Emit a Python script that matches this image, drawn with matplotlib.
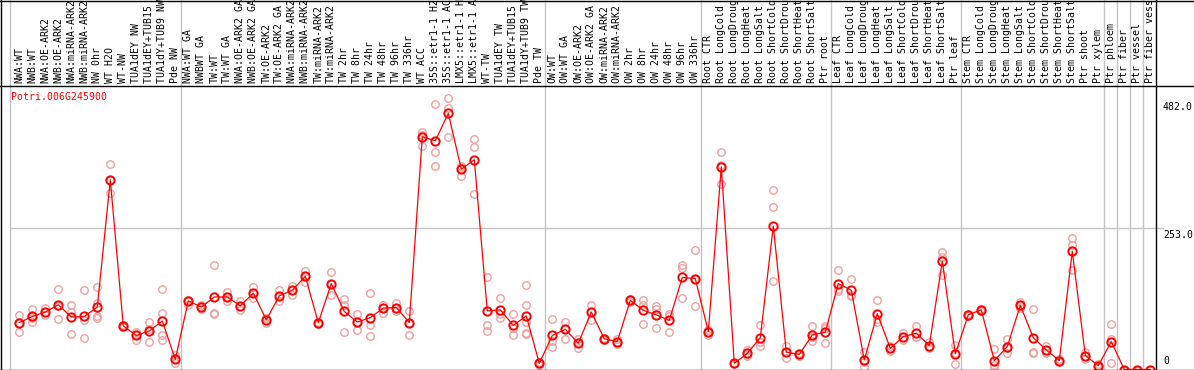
import numpy as np
import matplotlib
matplotlib.use("Agg")
import matplotlib.pyplot as plt
from matplotlib.lines import Line2D
import matplotlib.transforms as mtransforms

# Dados do gráfico
gene = "Potri.006G245900"

labels = [
    "NWA:WT", "NWB:WT", "NWA:OE-ARK2", "NWB:OE-ARK2", "NWA:miRNA-ARK2",
    "NWB:miRNA-ARK2", "NW 0hr", "WT H2O", "WT-NW", "TUA1dEY NW",
    "TUA1dEY+TUB15 NW", "TUA1dY+TUB9 NW", "Pde NW",
    "NWA:WT GA", "NWBWT GA", "TW:WT", "TW:WT GA", "NWA:OE-ARK2 GA",
    "NWB:OE-ARK2 GA", "TW:OE-ARK2", "TW:OE-ARK2 GA", "NWA:miRNA-ARK2 GA",
    "NWB:miRNA-ARK2 GA", "TW:miRNA-ARK2", "TW:miRNA-ARK2 GA", "TW 2hr",
    "TW 8hr", "TW 24hr", "TW 48hr", "TW 96hr", "TW 336hr", "WT ACC",
    "35S::etr1-1 H2O", "35S::etr1-1 ACC", "LMX5::etr1-1 H2O",
    "LMX5::etr1-1 ACC", "WT-TW", "TUA1dEY TW", "TUA1dEY+TUB15 TW",
    "TUA1dY+TUB9 TW", "Pde TW",
    "OW:WT", "OW:WT GA", "OW:OE-ARK2", "OW:OE-ARK2 GA", "OW:miRNA-ARK2",
    "OW:miRNA-ARK2 GA", "OW 2hr", "OW 8hr", "OW 24hr", "OW 48hr", "OW 96hr",
    "OW 336hr",
    "Root CTR", "Root LongCold", "Root LongDrought", "Root LongHeat",
    "Root LongSalt", "Root ShortCold", "Root ShortDrought", "Root ShortHeat",
    "Root ShortSalt", "Ptr root",
    "Leaf CTR", "Leaf LongCold", "Leaf LongDrought", "Leaf LongHeat",
    "Leaf LongSalt", "Leaf ShortCold", "Leaf ShortDrought", "Leaf ShortHeat",
    "Leaf ShortSalt", "Ptr leaf",
    "Stem CTR", "Stem LongCold", "Stem LongDrought", "Stem LongHeat",
    "Stem LongSalt", "Stem ShortCold", "Stem ShortDrought", "Stem ShortHeat",
    "Stem ShortSalt", "Ptr shoot", "Ptr xylem",
    "Ptr phloem", "Ptr fiber", "Ptr vessel", "Ptr fiber vessel",
]

group_sizes = [13, 28, 12, 10, 10, 11, 1, 1, 1, 1]

means = [
    84, 95, 103, 116, 94, 95, 112, 340, 78, 61, 69, 87, 18,
    123, 112, 130, 130, 114, 137, 89, 132, 142, 167, 84, 154, 104, 85, 93,
    110, 111, 84, 417, 410, 459, 359, 376, 105, 107, 79, 96, 11,
    61, 72, 47, 103, 55, 50, 124, 106, 98, 88, 165, 163,
    68, 363, 11, 29, 57, 257, 31, 27, 62, 67,
    154, 142, 17, 100, 38, 59, 65, 43, 194, 28,
    98, 107, 16, 41, 115, 57, 35, 16, 212, 25, 7,
    50, 0, 0, 0,
]

reps = [
    [98, 84, 67], [108, 93, 85], [110, 103, 97], [144, 114, 91],
    [115, 103, 64], [142, 89, 57], [148, 120, 95, 93], [368, 340, 316],
    [80, 78, 76], [68, 61, 53], [86, 72, 49], [145, 101, 62, 53],
    [26, 18, 12],
    [125, 123, 116], [115, 112, 109], [188, 102, 100], [139, 130, 123],
    [123, 114, 106], [147, 137, 128], [92, 89, 83], [143, 132, 123],
    [149, 142, 133], [176, 167, 156], [86, 84, 82], [174, 154, 134],
    [127, 116, 67], [99, 85, 71], [138, 79, 60], [116, 110, 101],
    [119, 111, 104], [105, 84, 62], [426, 420, 401], [475, 390, 364],
    [487, 469, 417], [365, 362, 347], [413, 398, 315], [165, 80, 69],
    [129, 100, 92], [100, 75, 62], [152, 115, 86, 65, 63], [14, 11, 8],
    [91, 51, 41], [86, 72, 55], [54, 47, 39], [116, 103, 89], [57, 55, 53],
    [54, 50, 45], [126, 124, 121], [124, 116, 81], [113, 108, 75],
    [99, 95, 68], [187, 182, 129], [214, 163, 113],
    [70, 68, 62], [390, 366, 332], [12, 11, 10], [35, 27, 25],
    [80, 50, 42], [321, 291, 158], [43, 31, 20], [29, 27, 25],
    [78, 58, 51], [78, 75, 48],
    [178, 145, 140], [163, 133, 131], [32, 14, 5], [125, 90, 86],
    [42, 38, 34], [65, 59, 52], [78, 59, 58], [50, 41, 38],
    [210, 202, 170], [44, 30, 10],
    [100, 98, 96], [109, 107, 105], [37, 8, 3], [55, 38, 30],
    [121, 113, 111], [109, 32, 29], [42, 35, 29], [18, 16, 14],
    [235, 224, 179], [31, 25, 19], [9, 7, 5],
    [82, 55, 11], [0, 0, 0], [0, 0, 0], [0, 0, 0],
]

y_marks = [482.0, 253.0]

# -- FIGURA (coordenadas em pixels da imagem original)
W, H = 1194, 370
fig = plt.figure(figsize=(W / 100, H / 100), dpi=100)


def fx(px):
    return px / W


def fy(py):
    return 1 - py / H


ax = fig.add_axes([fx(10.5), fy(369.5), fx(1155.5) - fx(10.5), fy(85.5) - fy(369.5)])
ax.set_xlim(-0.677, 87.4)
ax.set_ylim(0, 509)
ax.axis("off")

x = np.arange(len(means))
top_frac = 369.5 / 284.0  # topo da figura em fração do eixo
font = dict(family="DejaVu Sans Mono", size=7.1)
grid_c = "#c4c4c4"

# linhas verticais cinzas separando os grupos
ax.axvline(ax.get_xlim()[0] - 0.02, ymin=0, ymax=top_frac, color=grid_c, lw=1, clip_on=False)
bounds = np.cumsum(group_sizes) - 1 + 0.415
for b in bounds[:-1]:
    ax.axvline(b, ymin=0, ymax=top_frac, color=grid_c, lw=1, clip_on=False)

# linha horizontal em 253
ax.axhline(y_marks[1], xmin=0, xmax=(1163 - 10.5) / 1145.0, color=grid_c, lw=1, clip_on=False)

# bordas pretas
for xs, ys in [
    ([0, W], [0.5, 0.5]),
    ([0, W], [85.5, 85.5]),
    ([0, W], [369.5, 369.5]),
    ([0.5, 0.5], [0, H]),
    ([1155.5, 1155.5], [0, H]),
]:
    fig.add_artist(Line2D([fx(v) for v in xs], [fy(v) for v in ys],
                          transform=fig.transFigure, color="black", lw=1))

# rótulos das amostras (verticais, acima do gráfico)
trans = mtransforms.blended_transform_factory(ax.transData, ax.transAxes)
for i, lab in enumerate(labels):
    ax.text(i, 1 + 2.5 / 284.0, lab, rotation=90, ha="center", va="bottom",
            transform=trans, color="black", clip_on=False, **font)

# valores do eixo à direita
xr = (1163 - 10.5) / 1145.0
trans_r = mtransforms.blended_transform_factory(ax.transAxes, ax.transData)
for v in y_marks:
    ax.text(xr, v - 3, f"{v:.1f}", ha="left", va="top", transform=trans_r,
            color="black", clip_on=False, **font)
ax.text(xr, 6, "0", ha="left", va="bottom", transform=trans_r,
        color="black", clip_on=False, **font)

# nome do gene
ax.text(0.0, 0.9595, gene, ha="left", va="center", transform=ax.transAxes,
        color="red", **font)

# réplicas
rx = [i for i, r in enumerate(reps) for _ in r]
ry = [v for r in reps for v in r]
ax.plot(rx, ry, "o", mfc="none", mec="#f0a0a0", ms=5.4, mew=1.0, clip_on=False)

# médias
ax.plot(x, means, "-", color="red", lw=0.9, clip_on=False)
ax.plot(x, means, "o", mfc="none", mec="red", ms=6.0, mew=1.4, clip_on=False)

fig.savefig("out.png", dpi=100)
